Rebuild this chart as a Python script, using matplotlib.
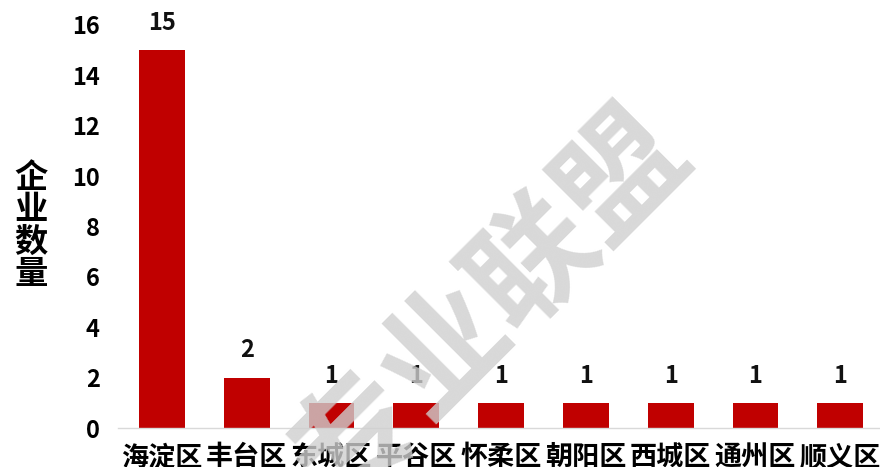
import matplotlib
matplotlib.use("Agg")
import matplotlib.pyplot as plt

plt.rcParams['font.family'] = ['Noto Sans CJK SC', 'DejaVu Sans']

districts = ["海淀区", "丰台区", "东城区", "平谷区", "怀柔区", "朝阳区", "西城区", "通州区", "顺义区"]
counts = [15, 2, 1, 1, 1, 1, 1, 1, 1]
yticks = [0, 2, 4, 6, 8, 10, 12, 14, 16]

fig = plt.figure(figsize=(8.8, 4.67), dpi=100)
ax = fig.add_axes([0.134, 0.0835, 0.866, 0.863])

x = range(len(districts))
bars = ax.bar(x, counts, width=0.54, color="#C00000", zorder=2)

for xi, v in zip(x, counts):
    ax.annotate(str(v), (xi, v), xytext=(0, 11), textcoords="offset points",
                ha="center", va="bottom", fontsize=17, fontweight="bold", color="#111111")

ax.set_xlim(-0.52, 8.47)
ax.set_ylim(0, 16)
ax.set_yticks(yticks)
ax.set_yticklabels([str(t) for t in yticks], fontsize=17, fontweight="bold")
ax.set_xticks(list(x))
ax.set_xticklabels(districts, fontsize=19.5, fontweight="bold")
ax.tick_params(axis="y", length=0, pad=13)
ax.tick_params(axis="x", length=0, pad=11)

for s in ["top", "right", "left"]:
    ax.spines[s].set_visible(False)
ax.spines["bottom"].set_color("#d9d9d9")
ax.spines["bottom"].set_linewidth(1)

fig.text(0.035, 0.515, "企\n业\n数\n量", ha="center", va="center", fontsize=24,
         fontweight="bold", linespacing=0.95)

fig.text(0.557, 0.345, "专业联盟", ha="center", va="center", fontsize=90,
         fontweight="bold", color="#cfcfcf", alpha=0.8, rotation=45, zorder=10)

fig.savefig("out.png", dpi=100)
